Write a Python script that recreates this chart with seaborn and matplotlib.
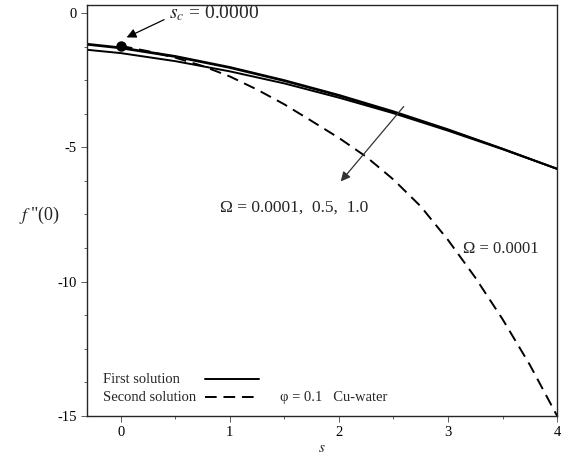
import matplotlib
matplotlib.use('Agg')
import matplotlib.pyplot as plt
import seaborn as sns
import pandas as pd

# first solutions (solid), Omega = 0.0001, 0.5, 1.0
s_first = [-0.3, 0.0, 0.5, 1.0, 1.5, 2.0, 2.5, 3.0, 3.5, 4.0]
f_om1 = [-1.15, -1.28, -1.60, -2.01, -2.50, -3.05, -3.66, -4.33, -5.05, -5.80]
f_om2 = [-1.18, -1.31, -1.63, -2.04, -2.53, -3.08, -3.69, -4.35, -5.06, -5.80]
f_om3 = [-1.37, -1.49, -1.79, -2.17, -2.62, -3.15, -3.73, -4.38, -5.07, -5.80]

# second solution (dashed), Omega = 0.0001
s_second = [0.0, 0.25, 0.5, 0.75, 1.0, 1.25, 1.5, 1.75, 2.0, 2.25, 2.5,
            2.75, 3.0, 3.25, 3.5, 3.75, 4.0]
f_second = [-1.22, -1.42, -1.66, -1.97, -2.36, -2.85, -3.40, -4.02, -4.65,
            -5.35, -6.20, -7.20, -8.45, -9.85, -11.40, -13.10, -15.00]

s_c = 0.0
f_c = -1.22

first = pd.DataFrame({'s': s_first * 3,
                      'f': f_om1 + f_om2 + f_om3,
                      'omega': ['0.0001'] * 10 + ['0.5'] * 10 + ['1.0'] * 10})
second = pd.DataFrame({'s': s_second, 'f': f_second})

sns.set_style('ticks')
plt.rcParams['font.family'] = ['Liberation Serif', 'DejaVu Serif']
plt.rcParams['mathtext.fontset'] = 'stix'
plt.rcParams['font.size'] = 10

fig = plt.figure(figsize=(5.65, 4.59), dpi=100)
ax = fig.add_axes([0.154, 0.094, 0.832, 0.895])

dash = (0, (6, 3.5))
sns.lineplot(data=first, x='s', y='f', units='omega', estimator=None,
             color='black', lw=1.4, ax=ax, sort=False)
sns.lineplot(data=second, x='s', y='f', color='black', lw=1.4, ax=ax,
             sort=False, linestyle=dash)
ax.plot([s_c], [f_c], 'o', color='black', ms=6.5)

ax.set_xlim(-0.31, 4.0)
ax.set_ylim(-15, 0.3)
ax.set_xticks([0, 1, 2, 3, 4])
ax.set_xticks([0.5, 1.5, 2.5, 3.5], minor=True)
ax.set_yticks([0, -5, -10, -15])
ax.set_yticks([-1.25, -2.5, -3.75, -6.25, -7.5, -8.75, -11.25, -12.5, -13.75],
              minor=True)
ax.set_yticklabels(['0', '-5', '-10', '-15'])
ax.tick_params(which='major', length=4, width=0.6, colors='#444444',
               labelcolor='black', labelsize=10.5)
ax.tick_params(which='minor', length=2.5, width=0.6, colors='#444444')
for sp in ax.spines.values():
    sp.set_visible(True)
    sp.set_linewidth(1.0)

ax.set_xlabel('$s$', fontsize=11, labelpad=2)
ax.set_ylabel('$f\\;$"(0)', fontsize=13, rotation=0, va='center')
ax.yaxis.set_label_coords(-0.102, 0.489)

# annotations
ax.annotate('', xy=(0.03, -0.95), xytext=(0.42, -0.2),
            arrowprops=dict(arrowstyle='-|>', color='black', lw=0.9,
                            mutation_scale=14))
ax.text(0.44, -0.02, '$s_c$ = 0.0000', fontsize=14, va='center', ha='left')

ax.annotate('', xy=(2.0, -6.35), xytext=(2.61, -3.4),
            arrowprops=dict(arrowstyle='-|>', color='#333333', lw=0.9,
                            mutation_scale=14))
ax.text(0.91, -7.25, 'Ω = 0.0001,  0.5,  1.0', fontsize=12.5, va='center')
ax.text(3.14, -8.8, 'Ω = 0.0001', fontsize=12, va='center')
ax.text(0.41, 0.044, 'φ = 0.1   Cu-water', transform=ax.transAxes,
        fontsize=10.5, va='center')

# legend: label first, line sample after it
ax.text(0.033, 0.088, 'First solution', transform=ax.transAxes,
        fontsize=10.5, va='center')
ax.text(0.033, 0.044, 'Second solution', transform=ax.transAxes,
        fontsize=10.5, va='center')
ax.plot([0.252, 0.366], [0.090, 0.090], transform=ax.transAxes,
        color='black', lw=1.4)
ax.plot([0.252, 0.362], [0.046, 0.046], transform=ax.transAxes,
        color='black', lw=1.4, linestyle=dash)

plt.savefig('out.png', dpi=100)
